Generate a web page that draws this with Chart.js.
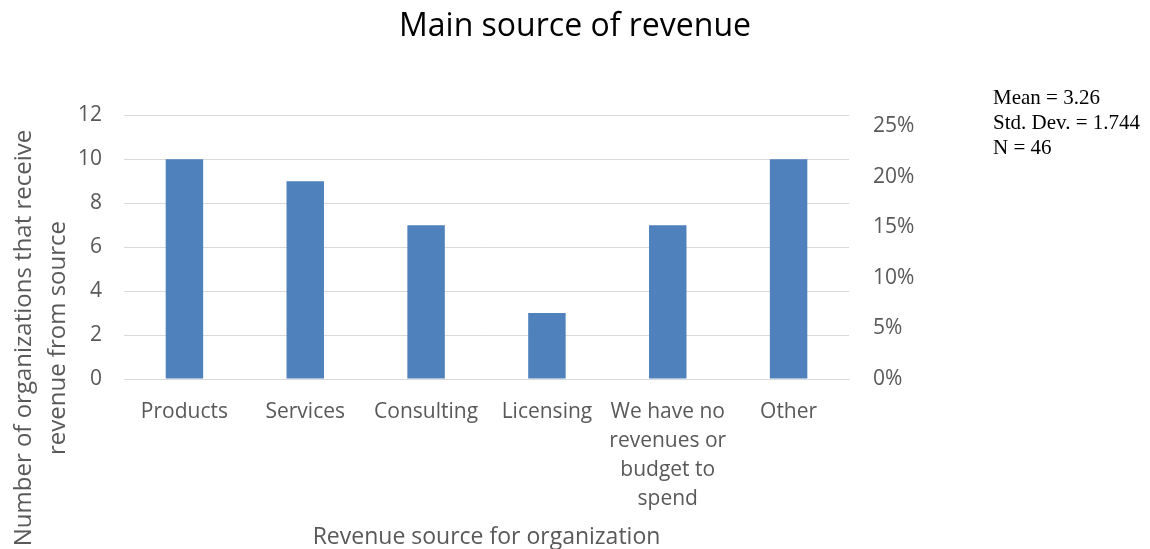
<!DOCTYPE html>
<html>
<head>
<meta charset="utf-8">
<script src="https://cdn.jsdelivr.net/npm/chart.js@4/dist/chart.umd.min.js"></script>
<style>
  html, body { margin: 0; padding: 0; background: #fff; }
  #wrap { width: 1150px; height: 549px; }
</style>
</head>
<body>
<div id="wrap"><canvas id="myChart" width="1150" height="549"></canvas></div>
<script>
// revenue sources and how many organizations named each one
const categories = ['Products', 'Services', 'Consulting', 'Licensing',
    ['We have no', 'revenues or', 'budget to', 'spend'], 'Other'];
const counts = [10, 9, 7, 3, 7, 10];
const countTicks = [0, 2, 4, 6, 8, 10, 12];
const percentTicks = [0, 0.05, 0.10, 0.15, 0.20, 0.25];
const statLines = ['Mean = 3.26', 'Std. Dev. = 1.744', 'N = 46'];
const yTitleLines = ['Number of organizations that receive', 'revenue from source'];

const total = counts.reduce((a, b) => a + b, 0);
const yMax = countTicks[countTicks.length - 1];

const sansFont = '"Open Sans", Lato, sans-serif';
const tickGrey = '#595959';

// rotated two-line y title and the stats box on the right
const extras = {
    id: 'extras',
    afterDraw(chart) {
        const ctx = chart.ctx;
        ctx.save();
        ctx.fillStyle = tickGrey;
        ctx.font = '24px ' + sansFont;
        ctx.textAlign = 'center';
        ctx.textBaseline = 'middle';
        ctx.translate(0, 338);
        ctx.rotate(-Math.PI / 2);
        ctx.fillText(yTitleLines[0], 0, 24);
        ctx.fillText(yTitleLines[1], 0, 58);
        ctx.restore();

        ctx.save();
        ctx.fillStyle = '#000';
        ctx.font = '21px "Liberation Serif", "Times New Roman", serif';
        ctx.textAlign = 'left';
        ctx.textBaseline = 'middle';
        statLines.forEach((s, i) => ctx.fillText(s, 993, 98 + i * 25));
        ctx.restore();
    }
};

var ctx = document.getElementById('myChart').getContext('2d');
var myChart = new Chart(ctx, {
    type: 'bar',
    data: {
        labels: categories,
        datasets: [{
            data: counts,
            backgroundColor: '#4f81bd',
            borderWidth: 0,
            categoryPercentage: 1,
            barPercentage: 0.31,
            yAxisID: 'y'
        }]
    },
    options: {
        responsive: false,
        animation: false,
        layout: { padding: { left: 0, right: 0, top: 0, bottom: 0 } },
        plugins: {
            legend: { display: false },
            tooltip: { enabled: false },
            title: {
                display: true,
                text: 'Main source of revenue',
                color: '#000',
                font: { family: sansFont, size: 32, weight: 'normal' },
                padding: { top: 8, bottom: 69 }
            }
        },
        scales: {
            x: {
                grid: { display: false, drawTicks: false },
                border: { display: true, color: '#d9d9d9' },
                ticks: {
                    color: tickGrey,
                    font: { family: sansFont, size: 21, lineHeight: 1.38 },
                    padding: 19,
                    maxRotation: 0,
                    autoSkip: false
                },
                title: {
                    display: true,
                    text: 'Revenue source for organization',
                    color: tickGrey,
                    font: { family: sansFont, size: 23, lineHeight: 1 },
                    padding: { top: 0, bottom: 0 }
                },
                afterFit(scale) { scale.height = 170; }
            },
            y: {
                position: 'left',
                min: 0,
                max: yMax,
                afterBuildTicks(scale) { scale.ticks = countTicks.map(v => ({ value: v })); },
                grid: { color: '#d9d9d9', drawTicks: false },
                border: { display: false },
                ticks: {
                    color: tickGrey,
                    font: { family: sansFont, size: 21 },
                    padding: 22
                },
                afterFit(scale) { scale.width = 124; }
            },
            y2: {
                position: 'right',
                min: 0,
                max: yMax / total,
                afterBuildTicks(scale) { scale.ticks = percentTicks.map(v => ({ value: v })); },
                grid: { display: false, drawTicks: false },
                border: { display: false },
                ticks: {
                    color: tickGrey,
                    font: { family: sansFont, size: 21 },
                    padding: 24,
                    callback: v => Math.round(v * 100) + '%'
                },
                afterFit(scale) { scale.width = 301; }
            }
        }
    },
    plugins: [extras]
});
</script>
</body>
</html>
